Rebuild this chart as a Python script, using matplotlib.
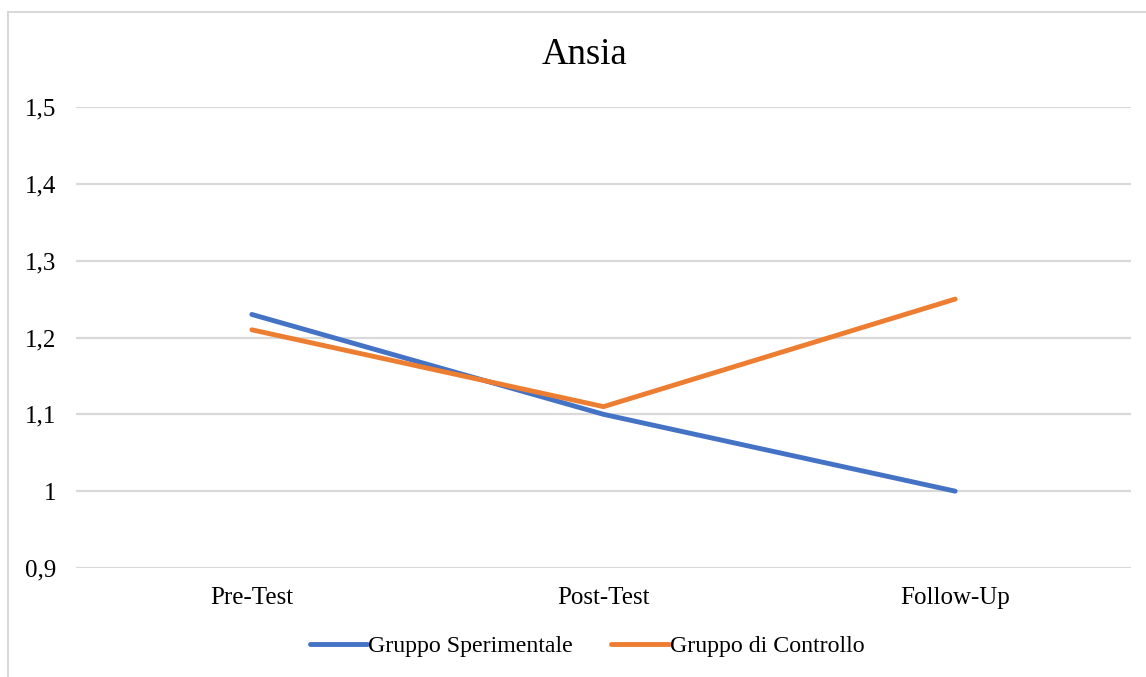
import matplotlib.pyplot as plt
from matplotlib.patches import Rectangle

# data
categories = ["Pre-Test", "Post-Test", "Follow-Up"]
sperimentale = [1.23, 1.10, 1.00]
controllo = [1.21, 1.11, 1.25]
y_ticks = [0.9, 1.0, 1.1, 1.2, 1.3, 1.4, 1.5]
y_labels = ["0,9", "1", "1,1", "1,2", "1,3", "1,4", "1,5"]

plt.rcParams['font.family'] = ['Liberation Serif', 'DejaVu Serif']

W, H = 1146, 677
fig = plt.figure(figsize=(W / 100, H / 100), dpi=100)
ax = fig.add_axes([76 / W, 1 - 568 / H, (1131 - 76) / W, (568 - 107) / H])

x = range(len(categories))
ax.plot(x, sperimentale, color="#4472C4", lw=3.5, solid_capstyle="round",
        label="Gruppo Sperimentale")
ax.plot(x, controllo, color="#ED7D31", lw=3.5, solid_capstyle="round",
        label="Gruppo di Controllo")

ax.set_xlim(-0.5, 2.5)
ax.set_ylim(0.9, 1.5)
ax.set_xticks(list(x))
ax.set_xticklabels(categories, fontsize=18)
ax.set_yticks(y_ticks)
ax.set_yticklabels(y_labels, fontsize=18)
ax.tick_params(axis="both", length=0, colors="black")
ax.tick_params(axis="y", pad=14.5)
ax.tick_params(axis="x", pad=13.5)
ax.grid(axis="y", color="#d9d9d9", lw=1.6)
ax.set_axisbelow(True)
for s in ax.spines.values():
    s.set_visible(False)

fig.text(584 / W, 1 - 55 / H, "Ansia", fontsize=26.5, ha="center", va="center")

fig.legend(loc="center", bbox_to_anchor=(587 / W, 1 - 646 / H), ncol=2,
           frameon=False, fontsize=17.2, handlelength=2.4, handletextpad=0.05,
           columnspacing=1.6)

# chart frame
fig.patches.append(Rectangle((8 / W, -0.1), 1.0, 1 - 12 / H + 0.1,
                             transform=fig.transFigure, fill=False,
                             edgecolor="#d9d9d9", lw=1.5))

fig.savefig("out.png", dpi=100)
